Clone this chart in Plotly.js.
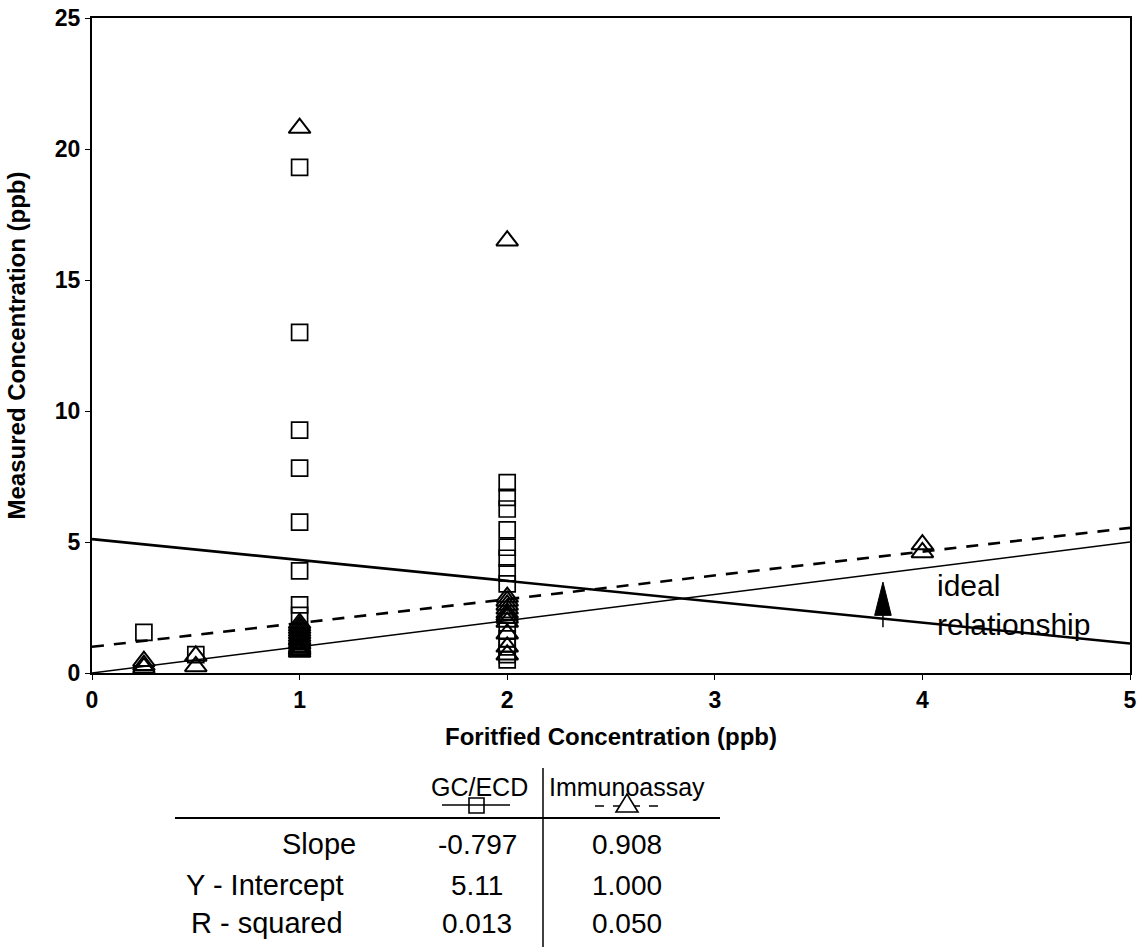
<!DOCTYPE html>
<html>
<head>
<meta charset="utf-8">
<script src="https://cdn.plot.ly/plotly-3.0.1.min.js"></script>
<style>html,body{margin:0;padding:0;background:#fff;}#chart{width:1146px;height:947px;}</style>
</head>
<body>
<div id="chart"></div>
<script>
// ---- data ----
const gcX = [0.25, 0.5, 1, 1, 1, 1, 1, 1, 1, 1, 1, 1, 1,
             2, 2, 2, 2, 2, 2, 2, 2, 2, 2, 2, 2, 2];
const gcY = [1.55, 0.7, 19.3, 13.0, 9.27, 7.82, 5.76, 3.9, 2.6, 2.2, 1.0, 0.95, 1.2,
             7.27, 6.7, 6.26, 5.46, 4.8, 4.38, 3.82, 3.4, 1.6, 1.3, 1.0, 0.7, 0.5];

const iaX = [0.25, 0.25, 0.25, 0.5, 0.5,
             1, 1, 1, 1, 1, 1, 1, 1, 1, 1, 1, 1, 1, 1, 1, 1,
             2, 2, 2, 2, 2, 2, 2, 2, 2, 2, 2, 2, 4, 4];
const iaY = [0.45, 0.3, 0.2, 0.65, 0.25,
             20.8, 1.9, 1.8, 1.7, 1.6, 1.5, 1.4, 1.3, 1.25, 1.15, 1.1, 1.0, 0.95, 0.9, 0.85, 0.8,
             16.5, 2.9, 2.75, 2.6, 2.45, 2.3, 2.2, 2.1, 1.95, 1.5, 1.0, 0.7, 4.9, 4.6];

const statLabels = ["Slope", "Y - Intercept", "R - squared"];
const gcStats = ["-0.797", "5.11", "0.013"];
const iaStats = ["0.908", "1.000", "0.050"];
const gcSlope = -0.797, gcIntercept = 5.11;
const iaSlope = 0.908, iaIntercept = 1.000;

const lineX = [0, 5];
const gcLineY = lineX.map(x => gcIntercept + gcSlope * x);
const iaLineY = lineX.map(x => iaIntercept + iaSlope * x);
const idealY = lineX.slice();

const xTicks = [0, 1, 2, 3, 4, 5];
const yTicks = [0, 5, 10, 15, 20, 25];

// ---- geometry helpers (pixel -> paper) ----
const L = 92, R = 1130, T = 18, B = 673;
const px = p => (p - L) / (R - L);
const py = p => (B - p) / (B - T);

const FONT = "Liberation Sans, Arial, sans-serif";

const traces = [
  {x: lineX, y: idealY, mode: "lines", line: {color: "#000", width: 1.5}, hoverinfo: "skip"},
  {x: lineX, y: gcLineY, mode: "lines", line: {color: "#000", width: 2.6}, hoverinfo: "skip"},
  {x: lineX, y: iaLineY, mode: "lines", line: {color: "#000", width: 2.6, dash: "12px,10px"}, hoverinfo: "skip"},
  {x: gcX, y: gcY, mode: "markers", name: "GC/ECD",
   marker: {symbol: "square-open", size: 16, color: "#000", line: {width: 1.7}}, cliponaxis: false},
  {x: iaX, y: iaY, mode: "markers", name: "Immunoassay",
   marker: {symbol: "triangle-up-open", size: 19, color: "#000", line: {width: 2}}, cliponaxis: false}
];

const arrowX = 3.81, arrowTip = 3.47, arrowBase = 2.2, arrowTail = 1.75, arrowHalf = 0.04;

const P = (a, b) => `${px(a)},${py(b)}`;
const shapes = [
  {type: "path", xref: "x", yref: "y",
   path: `M${arrowX - arrowHalf},${arrowBase} L${arrowX},${arrowTip} L${arrowX + arrowHalf},${arrowBase} Z`,
   fillcolor: "#000", line: {color: "#000", width: 1}},
  {type: "line", xref: "x", yref: "y", x0: arrowX, x1: arrowX, y0: arrowTail, y1: arrowBase,
   line: {color: "#000", width: 1.5}},
  // table rules
  {type: "line", xref: "paper", yref: "paper", x0: px(175), x1: px(720), y0: py(818), y1: py(818),
   line: {color: "#000", width: 2}},
  {type: "line", xref: "paper", yref: "paper", x0: px(543), x1: px(543), y0: py(768), y1: py(947),
   line: {color: "#000", width: 1.5}},
  // legend keys
  {type: "line", xref: "paper", yref: "paper", x0: px(442), x1: px(510), y0: py(805), y1: py(805),
   line: {color: "#000", width: 1.6}},
  {type: "rect", xref: "paper", yref: "paper", x0: px(469), x1: px(484), y0: py(813), y1: py(798),
   fillcolor: "rgba(0,0,0,0)", line: {color: "#000", width: 1.6}},
  {type: "line", xref: "paper", yref: "paper", x0: px(595), x1: px(660), y0: py(806), y1: py(806),
   line: {color: "#000", width: 1.6, dash: "9px,9px"}},
  {type: "path", xref: "paper", yref: "paper",
   path: `M${P(616, 812)} L${P(627, 794)} L${P(638, 812)} Z`,
   fillcolor: "#fff", line: {color: "#000", width: 1.6}}
];

const ann = (x, y, text, size, xanchor) => ({x: x, y: y, xref: "paper", yref: "paper", text: text,
  showarrow: false, xanchor: xanchor || "center", yanchor: "middle",
  font: {family: FONT, size: size, color: "#000"}});

const annotations = [
  {x: 4.06, y: 2.6, xref: "x", yref: "y", xanchor: "left", yanchor: "middle", align: "left",
   text: "ideal<br>relationship", showarrow: false, font: {family: FONT, size: 30, color: "#000"}},
  ann(px(479), py(787), "GC/ECD", 25),
  ann(px(627), py(787), "Immunoassay", 25)
];
const rowY = [844, 885, 923];
const labelRight = [358, 345, 345];
statLabels.forEach((lab, i) => {
  annotations.push(ann(px(labelRight[i]), py(rowY[i]), lab, 29, "right"));
  annotations.push(ann(px(477), py(rowY[i]), gcStats[i], 28));
  annotations.push(ann(px(627), py(rowY[i]), iaStats[i], 28));
});

const axisFont = {family: FONT, size: 23, color: "#000", weight: "bold"};

const layout = {
  width: 1146, height: 947,
  margin: {l: L, r: 1146 - R, t: T, b: 947 - B},
  paper_bgcolor: "#fff", plot_bgcolor: "#fff",
  showlegend: false,
  xaxis: {
    range: [0, 5], tickvals: xTicks, ticktext: xTicks.map(String),
    showgrid: false, zeroline: false, showline: true, linecolor: "#000", linewidth: 2, mirror: true,
    ticks: "outside", ticklen: 5, tickcolor: "#000", tickfont: axisFont, automargin: false,
    title: {text: "Foritfied Concentration (ppb)", font: {family: FONT, size: 24, color: "#000", weight: "bold"}, standoff: 17}
  },
  yaxis: {
    range: [0, 25], tickvals: yTicks, ticktext: yTicks.map(String),
    showgrid: false, zeroline: false, showline: true, linecolor: "#000", linewidth: 2, mirror: true,
    ticks: "outside", ticklen: 5, tickcolor: "#000", tickfont: axisFont, automargin: false,
    title: {text: "Measured Concentration (ppb)", font: {family: FONT, size: 24, color: "#000", weight: "bold"}, standoff: 22}
  },
  shapes: shapes,
  annotations: annotations
};

Plotly.newPlot("chart", traces, layout, {displayModeBar: false, staticPlot: true});
</script>
</body>
</html>
